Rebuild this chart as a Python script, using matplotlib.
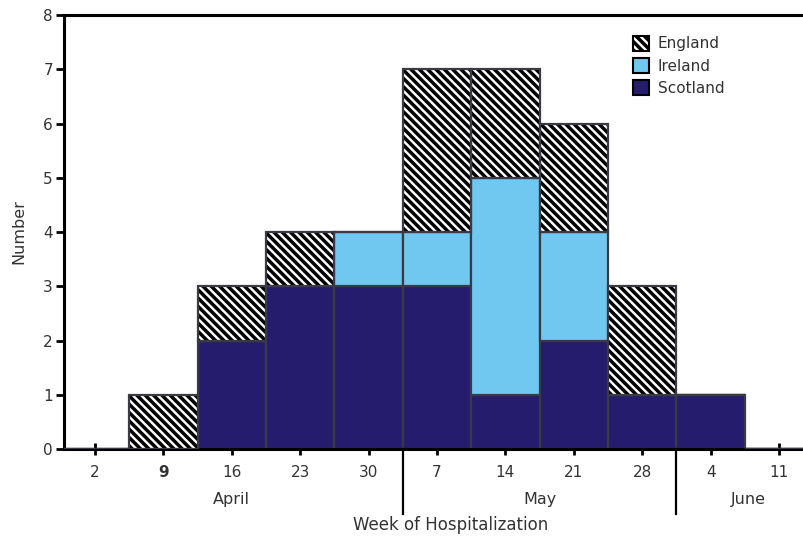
import matplotlib
matplotlib.use("Agg")
import matplotlib.pyplot as plt
import numpy as np
from matplotlib.patches import Patch

# Data
week_labels = ["2", "9", "16", "23", "30", "7", "14", "21", "28", "4", "11"]
scotland = [0, 0, 2, 3, 3, 3, 1, 2, 1, 1, 0]
ireland  = [0, 0, 0, 0, 1, 1, 4, 2, 0, 0, 0]
england  = [0, 1, 1, 1, 0, 3, 2, 2, 2, 0, 0]
months = ["April", "May", "June"]
month_pos = [2.0, 6.5, 9.55]
month_dividers = [4.5, 8.5]

plt.rcParams['font.family'] = ['DejaVu Sans']
plt.rcParams['hatch.linewidth'] = 2.5
plt.rcParams['hatch.color'] = 'black'

fig = plt.figure(figsize=(8.04, 5.4), dpi=100)
ax = fig.add_axes([0.0796, 0.1685, 0.9204, 0.8037])

x = np.arange(len(week_labels))
sc = np.array(scotland)
ir = np.array(ireland)
en = np.array(england)

edge = '#3a3a44'
c_sc = '#251c6e'
c_ir = '#70c8f0'
hatch = '\\\\\\\\'

ax.bar(x, sc, width=1.0, color=c_sc, edgecolor=edge, linewidth=1.6, zorder=2)
ax.bar(x, ir, width=1.0, bottom=sc, color=c_ir, edgecolor=edge, linewidth=1.6, zorder=2)
ax.bar(x, en, width=1.0, bottom=sc + ir, color='white', edgecolor='black', hatch=hatch,
       linewidth=0, zorder=2)
ax.bar(x, en, width=1.0, bottom=sc + ir, fill=False, edgecolor=edge, linewidth=1.6, zorder=3)

ax.set_xlim(-0.453, 10.365)
ax.set_ylim(0, 8)
ax.set_yticks(range(0, 9))
ax.set_xticks(x)
ax.set_xticklabels(week_labels)
ax.get_xticklabels()[1].set_fontweight('bold')

txtc = '#333333'
ax.tick_params(axis='y', direction='out', length=6, width=2, labelsize=11, colors='black', labelcolor=txtc, pad=2)
ax.tick_params(axis='x', direction='inout', length=9, width=2, labelsize=11, colors='black', labelcolor=txtc, pad=7)

for s in ['left', 'bottom', 'top']:
    ax.spines[s].set_linewidth(2.2)
    ax.spines[s].set_color('black')
ax.spines['right'].set_visible(False)

for d in month_dividers:
    ax.plot([d, d], [0, -0.15], transform=ax.get_xaxis_transform(), color='black',
            linewidth=1.6, clip_on=False, zorder=4)

for m, p in zip(months, month_pos):
    ax.text(p, -0.117, m, transform=ax.get_xaxis_transform(), ha='center', va='center',
            fontsize=11.5, color=txtc)

ax.text(5.2, -0.174, "Week of Hospitalization", transform=ax.get_xaxis_transform(),
        ha='center', va='center', fontsize=12, color=txtc)
ax.set_ylabel("Number", fontsize=11.5, color=txtc, labelpad=12)

h_en = Patch(facecolor='white', edgecolor='black', hatch=hatch, linewidth=1.5)
h_ir = Patch(facecolor=c_ir, edgecolor='black', linewidth=1.5)
h_sc = Patch(facecolor=c_sc, edgecolor='black', linewidth=1.5)
leg = ax.legend([h_en, h_ir, h_sc], ['England', 'Ireland', 'Scotland'],
                loc='upper left', bbox_to_anchor=(0.760, 0.966), frameon=False,
                fontsize=11, handlelength=1.1, handleheight=1.1, handletextpad=0.55,
                labelspacing=0.43, borderaxespad=0)
for t in leg.get_texts():
    t.set_color(txtc)

fig.savefig("out.png", dpi=100)
